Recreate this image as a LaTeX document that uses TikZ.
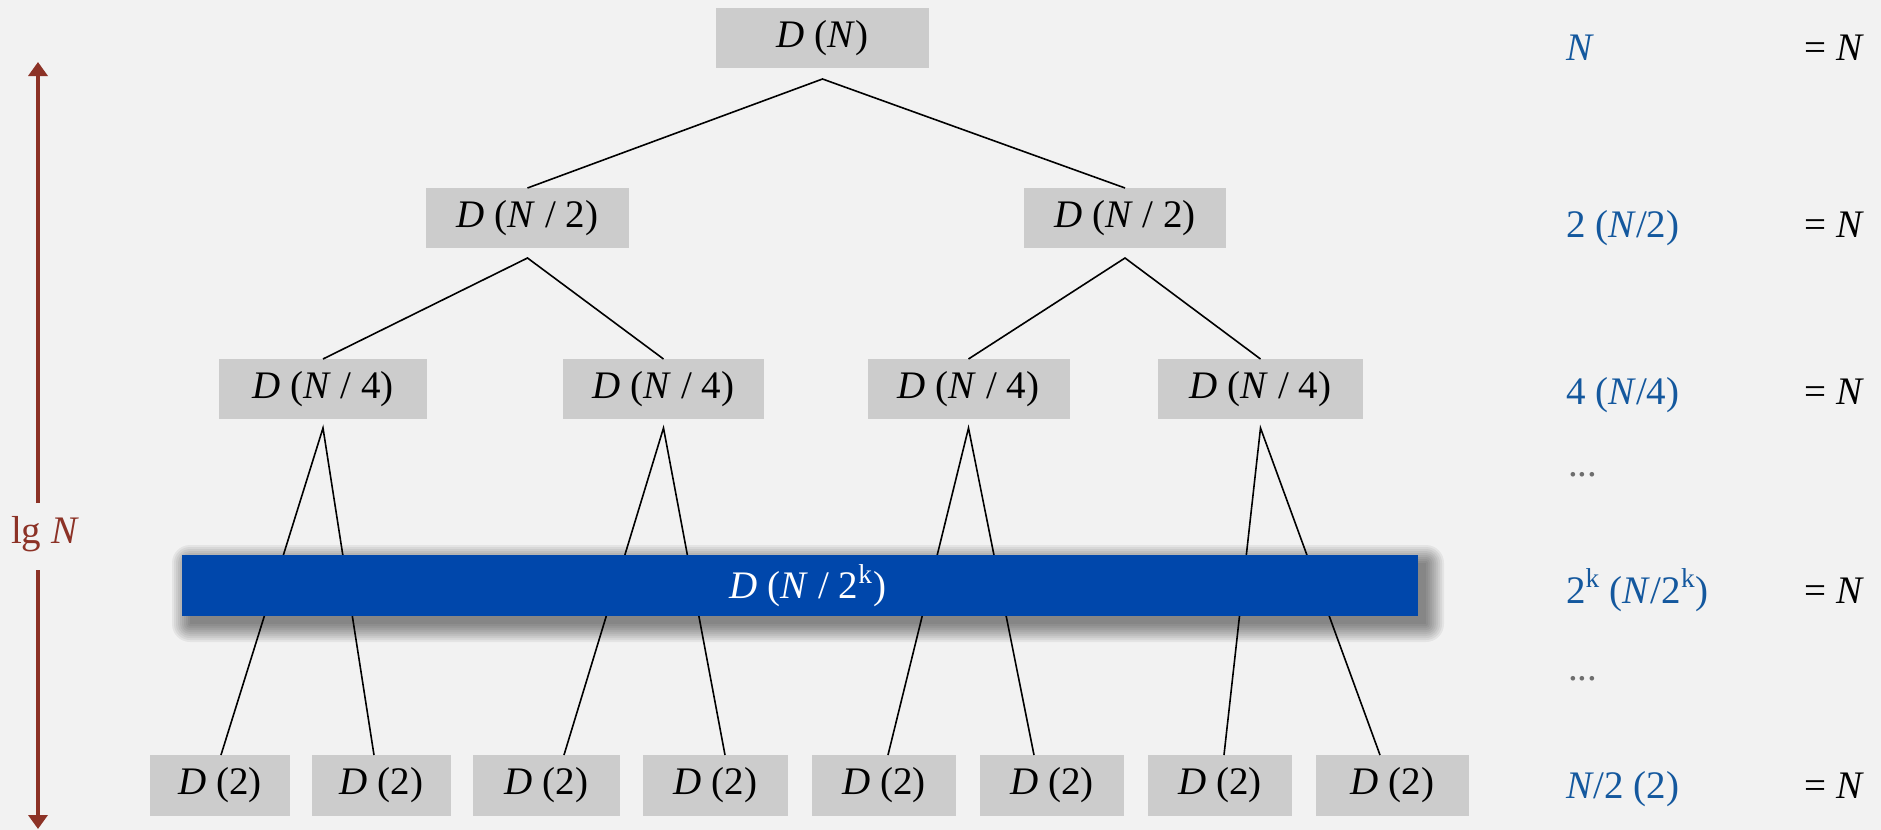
\documentclass[tikz,border=0pt]{standalone}
\usepackage{fontspec}
\setmainfont{Liberation Serif}
\usetikzlibrary{arrows.meta,calc}
\definecolor{bg}{HTML}{F2F2F2}
\definecolor{boxgray}{HTML}{CCCCCC}
\definecolor{barblue}{HTML}{0047AB}
\definecolor{txtblue}{RGB}{20,88,158}
\definecolor{arrred}{RGB}{140,50,38}
\definecolor{dotgray}{RGB}{110,110,110}
\begin{document}
\begin{tikzpicture}[x=0.5pt,y=-0.5pt,
  every node/.style={font=\fontsize{19.5pt}{23pt}\selectfont, inner sep=0pt, outer sep=0pt},
  wd/.style={minimum width=#1*0.5pt},
  gbox/.style={fill=boxgray, minimum height=30pt},
  leaf/.style={fill=boxgray, minimum height=30.5pt},
  conn/.style={line width=0.8pt, black},
  arr/.style={line width=2pt, arrred, -{Triangle[length=7pt,width=9.5pt]}},
  rowtxt/.style={anchor=base west, text=txtblue},
  eqtxt/.style={anchor=base east, text=black},
  dots/.style={anchor=base west, text=dotgray},
  shadowlayer/.style={fill=black, opacity=0.055}
]
\fill[bg] (0,0) rectangle (1881,830);
\useasboundingbox (0,0) rectangle (1881,830);

% tree nodes
\node[gbox,wd=213] (t) at (822.5,38) {\textit{D} (\textit{N})};
\node[gbox,wd=203] (a) at (527.5,218) {\textit{D} (\textit{N} / 2)};
\node[gbox,wd=202] (b) at (1125,218) {\textit{D} (\textit{N} / 2)};
\node[gbox,wd=208] (a1) at (323,389) {\textit{D} (\textit{N} / 4)};
\node[gbox,wd=201] (a2) at (663.5,389) {\textit{D} (\textit{N} / 4)};
\node[gbox,wd=202] (b1) at (968.5,389) {\textit{D} (\textit{N} / 4)};
\node[gbox,wd=205] (b2) at (1260.5,389) {\textit{D} (\textit{N} / 4)};

\node[leaf,wd=140] (l1) at (220,785.5) {\textit{D} (2)};
\node[leaf,wd=139] (l2) at (381.5,785.5) {\textit{D} (2)};
\node[leaf,wd=147] (l3) at (546.5,785.5) {\textit{D} (2)};
\node[leaf,wd=145] (l4) at (715.5,785.5) {\textit{D} (2)};
\node[leaf,wd=144] (l5) at (884,785.5) {\textit{D} (2)};
\node[leaf,wd=144] (l6) at (1052,785.5) {\textit{D} (2)};
\node[leaf,wd=144] (l7) at (1220,785.5) {\textit{D} (2)};
\node[leaf,wd=153] (l8) at (1392.5,785.5) {\textit{D} (2)};

% apex points below nodes
\coordinate (tA) at ($(t.south)+(0,11)$);
\coordinate (aA) at ($(a.south)+(0,10)$);
\coordinate (bA) at ($(b.south)+(0,10)$);
\coordinate (a1A) at ($(a1.south)+(0,9)$);
\coordinate (a2A) at ($(a2.south)+(0,9)$);
\coordinate (b1A) at ($(b1.south)+(0,9)$);
\coordinate (b2A) at ($(b2.south)+(0,9)$);

% connectors
\draw[conn] (a.north) -- (tA) -- (b.north);
\draw[conn] (a1.north) -- (aA) -- (a2.north);
\draw[conn] (b1.north) -- (bA) -- (b2.north);
\draw[conn] ($(l1.north)+(1,0)$) -- (a1A) -- ($(l2.north)+(-7.5,0)$);
\draw[conn] ($(l3.north)+(17.5,0)$) -- (a2A) -- ($(l4.north)+(9.5,0)$);
\draw[conn] ($(l5.north)+(4,0)$) -- (b1A) -- ($(l6.north)+(-18,0)$);
\draw[conn] ($(l7.north)+(4,0)$) -- (b2A) -- ($(l8.north)+(-12.5,0)$);

% blue bar with soft shadow
\coordinate (barSW) at (182,616);
\coordinate (barNE) at (1418,555);
\foreach \r in {0,2,...,18} {
  \fill[shadowlayer, rounded corners=\r*0.5pt]
    ($(barSW)+(8-\r,8+\r)$) rectangle ($(barNE)+(8+\r,8-\r)$);
}
\node[fill=barblue, wd=1236, minimum height=30.5pt, text=white]
  (bar) at ($(barSW)!0.5!(barNE)$) {\hspace{8pt}\textit{D} (\textit{N} / 2\textsuperscript{k})};

% lg N arrow
\node[text=arrred] (lg) at (45,534) {lg \textit{N}};
\coordinate (arTop) at (38,62);
\coordinate (arBot) at (38,829);
\draw[arr] ($(lg.center)+(-7,-31)$) -- (arTop);
\draw[arr] ($(lg.center)+(-7,36)$) -- (arBot);

% right column
\node[rowtxt] (r1) at (1566,61) {\textit{N}};
\node[rowtxt] (r2) at (1566,237) {2 (\textit{N}/2)};
\node[rowtxt] (r3) at (1566,404) {4 (\textit{N}/4)};
\node[dots] (r4) at (1568,476) {...};
\node[rowtxt] (r5) at (1566,603) {2\textsuperscript{k} (\textit{N}/2\textsuperscript{k})};
\node[dots] (r6) at (1568,680) {...};
\node[rowtxt] (r7) at (1566,798) {\textit{N}/2 (2)};

\node[eqtxt] (e1) at (1864,61) {= \textit{N}};
\node[eqtxt] (e2) at (1864,237) {= \textit{N}};
\node[eqtxt] (e3) at (1864,404) {= \textit{N}};
\node[eqtxt] (e5) at (1864,603) {= \textit{N}};
\node[eqtxt] (e7) at (1864,798) {= \textit{N}};
\end{tikzpicture}
\end{document}
